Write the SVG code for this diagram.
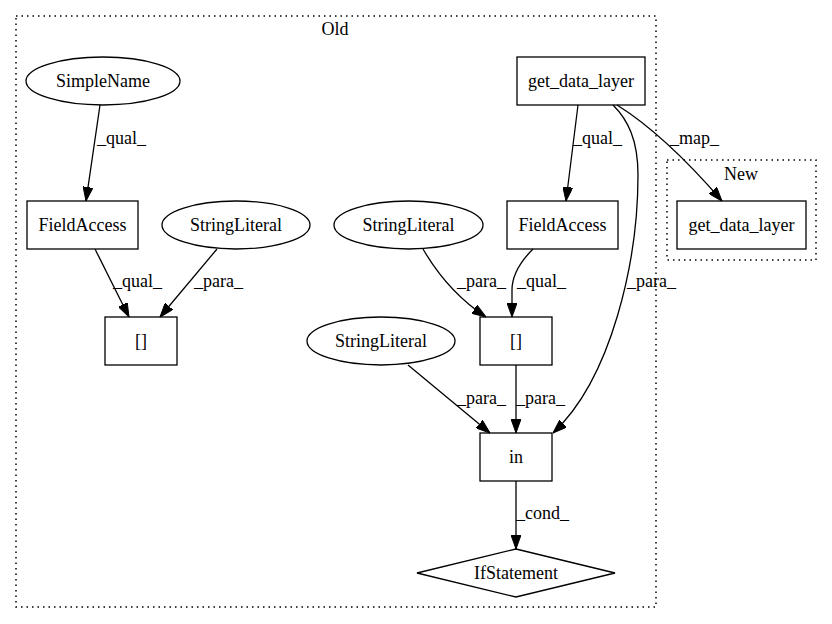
<svg xmlns="http://www.w3.org/2000/svg" width="832" height="624" viewBox="0 0 832 624">
<style>
text{font-family:"Liberation Serif","Times New Roman",serif;font-size:18px;fill:#000}
.c{text-anchor:middle}
.node{fill:none;stroke:#000;stroke-width:1.3}
.cl{fill:none;stroke:#000;stroke-width:1.5;stroke-dasharray:1.5,4}
.e{fill:none;stroke:#000;stroke-width:1.3;marker-end:url(#ah)}
</style>
<defs>
<marker id="ah" viewBox="0 0 14 10" refX="14" refY="5" markerWidth="14" markerHeight="10" markerUnits="userSpaceOnUse" orient="auto">
<path d="M0,0 L14,5 L0,10 z" fill="#000" stroke="#000" stroke-width="1"/>
</marker>
</defs>
<rect width="832" height="624" fill="#fff"/>
<g id="cluster_old">
<rect class="cl" x="16" y="16" width="640" height="591"/>
<text class="c" x="335" y="35">Old</text>
</g>
<g id="cluster_new">
<rect class="cl" x="667" y="160" width="149" height="100"/>
<text class="c" x="741" y="180">New</text>
</g>
<g id="connectors">
<path class="e" d="M100,105 L86,201"/>
<text x="97" y="144">_qual_</text>
<path class="e" d="M95,249 L129,317"/>
<text x="113" y="287">_qual_</text>
<path class="e" d="M217,249 L160,317"/>
<text x="194" y="287">_para_</text>
<path class="e" d="M578,105 L566,201"/>
<text x="573" y="144">_qual_</text>
<path class="e" d="M617,105 Q665,135 722,201"/>
<text x="670" y="144">_map_</text>
<path class="e" d="M613,105 C628,120 638,140 638,175 C638,260 612,378 553,433"/>
<text x="627" y="287">_para_</text>
<path class="e" d="M423,249 Q448,292 486,317"/>
<text x="457" y="287">_para_</text>
<path class="e" d="M533,249 C520,262 512,275 512,290 L512,317"/>
<text x="517" y="287">_qual_</text>
<path class="e" d="M408,365 L490,433"/>
<text x="457" y="404">_para_</text>
<path class="e" d="M516,365 L516,433"/>
<text x="516" y="404">_para_</text>
<path class="e" d="M516,481 L516,549"/>
<text x="516" y="519">_cond_</text>
</g>
<g id="n_simplename">
<ellipse class="node" cx="103" cy="81" rx="77" ry="24"/>
<text class="c" x="103" y="87">SimpleName</text>
</g>
<g id="n_fieldaccess1">
<rect class="node" x="27" y="201" width="111" height="48"/>
<text class="c" x="82.5" y="231">FieldAccess</text>
</g>
<g id="n_stringliteral1">
<ellipse class="node" cx="236" cy="225" rx="74" ry="24"/>
<text class="c" x="236" y="231">StringLiteral</text>
</g>
<g id="n_index1">
<rect class="node" x="105" y="317" width="72" height="48"/>
<text class="c" x="141" y="347">[]</text>
</g>
<g id="n_getdatalayer_old">
<rect class="node" x="517" y="57" width="128" height="48"/>
<text class="c" x="581" y="87">get_data_layer</text>
</g>
<g id="n_stringliteral2">
<ellipse class="node" cx="408.5" cy="225" rx="74.5" ry="24"/>
<text class="c" x="408.5" y="231">StringLiteral</text>
</g>
<g id="n_fieldaccess2">
<rect class="node" x="507" y="201" width="111" height="48"/>
<text class="c" x="562.5" y="231">FieldAccess</text>
</g>
<g id="n_index2">
<rect class="node" x="480" y="317" width="72" height="48"/>
<text class="c" x="516" y="347">[]</text>
</g>
<g id="n_stringliteral3">
<ellipse class="node" cx="381" cy="341" rx="74" ry="24"/>
<text class="c" x="381" y="347">StringLiteral</text>
</g>
<g id="n_in">
<rect class="node" x="480" y="433" width="72" height="48"/>
<text class="c" x="516" y="463">in</text>
</g>
<g id="n_ifstatement">
<polygon class="node" points="516,549 615,573 516,597 417,573"/>
<text class="c" x="516" y="579">IfStatement</text>
</g>
<g id="n_getdatalayer_new">
<rect class="node" x="677" y="201" width="129" height="48"/>
<text class="c" x="741.5" y="231">get_data_layer</text>
</g>
</svg>
